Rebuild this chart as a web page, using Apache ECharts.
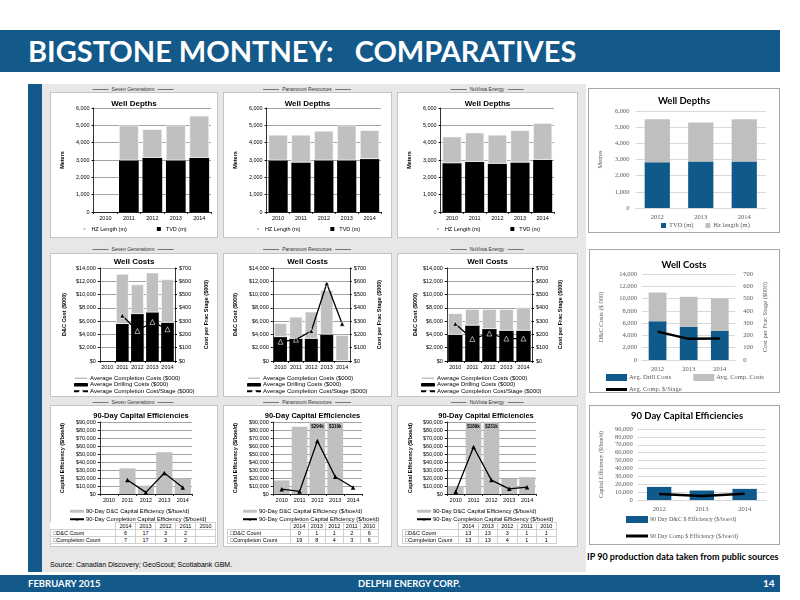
<!DOCTYPE html>
<html><head><meta charset="utf-8">
<script src="https://cdn.jsdelivr.net/npm/echarts@6/dist/echarts.min.js"></script>
<style>
body{margin:0;width:800px;height:600px;position:relative;background:#fff;overflow:hidden;font-family:'Liberation Sans',Arial,sans-serif;}
.abs{position:absolute;}
.box{position:absolute;background:#fff;border:1px solid #c4c4c4;}
.rbox{position:absolute;background:#fff;border:1px solid #a6a6a6;}
.co{position:absolute;font-size:5px;color:#333;display:flex;align-items:center;gap:3px;transform:translate(-50%,-50%);white-space:nowrap;}
.co span{display:inline-block;width:16px;border-top:1px solid #777;}
table.t{position:absolute;border-collapse:collapse;table-layout:fixed;font-size:5.5px;color:#000;background:#fff;}
table.t td{border:1px solid #d0d0d0;height:6px;line-height:6px;padding:0;text-align:center;overflow:hidden;white-space:nowrap;}
table.t td.l{text-align:left;padding-left:2px;}
</style></head>
<body>
<div class="abs" style="left:0;top:30px;width:780px;height:42px;background:#13598a;"></div>
<div class="abs" style="left:28px;top:32px;color:#fff;font-family:Lato,'Open Sans',sans-serif;font-weight:bold;font-size:29px;line-height:38px;white-space:pre;">BIGSTONE MONTNEY:   COMPARATIVES</div>
<div class="abs" style="left:28px;top:84px;width:14px;height:488px;background:#13598a;"></div>
<div class="abs" style="left:42px;top:84px;width:544px;height:488px;background:#e7e7e7;"></div>
<div class="abs" style="left:50px;top:561px;font-size:7px;color:#000;">Source: Canadian Discovery; GeoScout; Scotiabank GBM.</div>
<div class="abs" style="left:587px;top:551px;font-family:Lato,'Open Sans',sans-serif;font-weight:bold;font-size:9px;color:#000;white-space:nowrap;">IP 90 production data taken from public sources</div>
<div class="abs" style="left:0;top:575px;width:780px;height:17px;background:#13598a;"></div>
<div class="abs" style="left:28px;top:577px;color:#fff;font-family:Lato,'Open Sans',sans-serif;font-weight:bold;font-size:9.5px;line-height:13px;">FEBRUARY 2015</div>
<div class="abs" style="left:358px;top:577px;color:#fff;font-family:Lato,'Open Sans',sans-serif;font-weight:bold;font-size:9.5px;line-height:13px;">DELPHI ENERGY CORP.</div>
<div class="abs" style="left:763px;top:577px;color:#fff;font-family:Lato,'Open Sans',sans-serif;font-weight:bold;font-size:10px;line-height:13px;">14</div>
<script>
// ---------- DATA ----------
const years5 = ['2010','2011','2012','2013','2014'];
const years3 = ['2012','2013','2014'];
const tableYears = ['2014','2013','2012','2011','2010'];
const companies = ['Seven Generations','Paramount Resources','NuVista Energy'];

// Well depths (m)
const sgTvd = [null, 2980, 3130, 2980, 3130];
const sgHz  = [null, 2010, 1650, 2010, 2420];
const poTvd = [2980, 2860, 2980, 2980, 3060];
const poHz  = [1470, 1590, 1700, 2010, 1660];
const nvTvd = [2820, 2900, 2790, 2860, 3020];
const nvHz  = [1530, 1680, 1660, 1860, 2110];

// Well costs ($000) and completion cost per stage ($000)
const sgDrill = [null, 5590, 7080, 7330, 5780];
const sgComp  = [null, 7520, 4440, 5970, 6510];
const sgStage = [null, 342, 226, 294, 239];
const poDrill = [3610, 3370, 3370, 4000, null];
const poComp  = [2080, 3280, 4050, 6650, 3900];
const poStage = [145, 161, 226, 583, 280];
const nvDrill = [3950, 5350, 4820, 4580, 4580];
const nvComp  = [3230, 2450, 2980, 3220, 3470];
const nvStage = [280, 166, 207, 169, 169];

// 90-day capital efficiencies ($/boe/d)
const sgDC   = [null, 32000, 10500, 52200, 19400];
const sgCE   = [null, 17400, 2000, 26300, 8100];
const poDC   = [17000, 84000, 294000, 319000, null];
const poCE   = [6000, 3200, 66400, 21500, 8100];
const nvDC   = [10100, 189000, 231000, 19000, 21000];
const nvCE   = [2800, 58700, 17400, 6500, 8500];

// Counts table (columns 2014..2010)
const sgDCCount   = [6, 17, 3, 2, ''];
const sgCompCount = [7, 17, 3, 2, ''];
const poDCCount   = [0, 1, 1, 2, 6];
const poCompCount = [19, 8, 4, 3, 6];
const nvDCCount   = [13, 13, 3, 1, 1];
const nvCompCount = [13, 13, 4, 1, 1];

// Delphi (right column)
const dlTvd   = [2830, 2870, 2870];
const dlHz    = [2660, 2420, 2620];
const dlDrill = [6310, 5410, 4720];
const dlComp  = [4670, 4880, 5310];
const dlStage = [231, 172, 175];
const dlDC    = [16600, 12000, 14100];
const dlCE    = [7500, 5000, 7900];

// ---------- STYLE ----------
const F  = "'Liberation Sans', Arial, sans-serif";
const RF = "Lato, 'Open Sans', sans-serif";
const SF = "'Liberation Serif', serif";
const num = v => v.toLocaleString('en-US');
const money = v => '$' + v.toLocaleString('en-US');
const axL = {color:'#000', fontSize:5.5, fontFamily:F};
const axR = {color:'#595959', fontSize:6.5, fontFamily:SF};
const BLUE = '#0f5a8a', GREY = '#bfbfbf';

function chart(x, y, w, h, opt, cls) {
  const d = document.createElement('div');
  d.className = cls || 'box';
  d.style.left = x + 'px'; d.style.top = y + 'px';
  d.style.width = (w - 2) + 'px'; d.style.height = (h - 2) + 'px';
  document.body.appendChild(d);
  echarts.init(d, null, {renderer:'canvas'}).setOption(opt);
}
function coLabel(cx, cy, text) {
  const d = document.createElement('div');
  d.className = 'co';
  d.style.left = cx + 'px'; d.style.top = cy + 'px';
  d.innerHTML = '<span></span>' + text + '<span></span>';
  document.body.appendChild(d);
}
function table(x, y, labelW, colW, a, b) {
  const t = document.createElement('table');
  t.className = 't';
  t.style.left = x + 'px'; t.style.top = y + 'px';
  t.style.width = (labelW + 5 * colW) + 'px';
  let h = '<colgroup><col style="width:' + labelW + 'px">' + tableYears.map(() => '<col style="width:' + colW + 'px">').join('') + '</colgroup>';
  h += '<tr><td class="l" style="border-left-color:transparent;border-top-color:transparent"></td>' + tableYears.map(v => '<td>' + v + '</td>').join('') + '</tr>';
  h += '<tr><td class="l">&#9633;D&amp;C Count</td>' + a.map(v => '<td>' + v + '</td>').join('') + '</tr>';
  h += '<tr><td class="l">&#9633;Completion Count</td>' + b.map(v => '<td>' + v + '</td>').join('') + '</tr>';
  t.innerHTML = h;
  document.body.appendChild(t);
}

function xCat(data) {
  return {type:'category', data:data,
    axisLine:{lineStyle:{color:'#000', width:0.8}},
    axisTick:{show:true, length:2, lineStyle:{color:'#000', width:0.8}},
    axisLabel:Object.assign({margin:3, interval:0}, axL)};
}
function ttl(text, left, top, size, family) {
  return {text:text, left:left, top:top, textAlign:'center', padding:0,
    textStyle:{fontFamily:family, fontSize:size, fontWeight:'bold', color:'#000'}};
}

function depthOpt(tvd, hz, gl, gr, w) {
  return {
    animation:false,
    title:ttl('Well Depths', w / 2 - 1, 7, 8, F),
    grid:{left:gl, right:gr, top:15, bottom:25},
    legend:{data:['HZ Length (m)','TVD (m)'], bottom:5, left:'center', padding:0, itemGap:30, itemWidth:4, itemHeight:4, icon:'rect',
      textStyle:{fontFamily:F, fontSize:5.5, color:'#000'}},
    xAxis:xCat(years5),
    yAxis:{type:'value', min:0, max:6000, interval:1000, name:'Meters', nameLocation:'middle', nameGap:gl - 9,
      nameTextStyle:{fontFamily:F, fontSize:5.5, fontWeight:'bold', color:'#000'},
      axisLine:{show:true, lineStyle:{color:'#000', width:0.8}}, axisTick:{show:true, length:2},
      axisLabel:Object.assign({formatter:num, margin:4}, axL),
      splitLine:{lineStyle:{color:'#8c8c8c', width:0.8}}},
    series:[
      {name:'TVD (m)', type:'bar', stack:'d', data:tvd, barCategoryGap:'16%', itemStyle:{color:'#000'}},
      {name:'HZ Length (m)', type:'bar', stack:'d', data:hz, itemStyle:{color:'#c0c0c0', borderColor:'#fff', borderWidth:0.6}}
    ]
  };
}

function costOpt(drill, comp, stage, gl, gr, ngl, ngr, w) {
  return {
    animation:false,
    title:ttl('Well Costs', w / 2 - 1, 4, 8, F),
    grid:{left:gl, right:gr, top:14, bottom:35},
    legend:{orient:'vertical', left:22, top:121, padding:0, itemGap:0, itemWidth:14, itemHeight:3.5,
      data:['Average Completion Costs ($000)','Average Drilling Costs ($000)','Average Completion Cost/Stage ($000)'],
      textStyle:{fontFamily:F, fontSize:6, lineHeight:6.5, color:'#000', padding:[0,0,0,-3]}},
    xAxis:xCat(years5),
    yAxis:[
      {type:'value', min:0, max:14000, interval:2000, name:'D&C Cost ($000)', nameLocation:'middle', nameGap:ngl,
        nameTextStyle:{fontFamily:F, fontSize:5.5, fontWeight:'bold', color:'#000'},
        axisLine:{show:true, lineStyle:{color:'#000', width:0.8}}, axisTick:{show:true, length:2},
        axisLabel:Object.assign({formatter:money, margin:4}, axL),
        splitLine:{lineStyle:{color:'#8c8c8c', width:0.8}}},
      {type:'value', min:0, max:700, interval:100, position:'right', name:'Cost per Frac Stage ($000)', nameLocation:'middle', nameGap:ngr, nameRotate:90,
        nameTextStyle:{fontFamily:F, fontSize:5.5, fontWeight:'bold', color:'#000'},
        axisLine:{show:true, lineStyle:{color:'#000', width:0.8}}, axisTick:{show:true, length:2},
        axisLabel:Object.assign({formatter:v => '$' + v, margin:4}, axL), splitLine:{show:false}}
    ],
    series:[
      {name:'Average Drilling Costs ($000)', type:'bar', stack:'c', data:drill, barCategoryGap:'16%', itemStyle:{color:'#000'}},
      {name:'Average Completion Costs ($000)', type:'bar', stack:'c', data:comp, itemStyle:{color:'#c0c0c0', borderColor:'#fff', borderWidth:0.6}},
      {name:'Average Completion Cost/Stage ($000)', type:'line', yAxisIndex:1, data:stage, symbol:'triangle', symbolSize:5,
        lineStyle:{color:'#000', width:1.3}, itemStyle:{color:'#000', borderColor:'#fff', borderWidth:0.6}}
    ]
  };
}

function effOpt(dc, ce, gl, gr, ngl, w) {
  const dcData = dc.map(v => (v !== null && v > 90000) ? {value:v, label:{show:true}} : v);
  return {
    animation:false,
    title:ttl('90-Day Capital Efficiencies', gl + (w - 2 - gl - gr) / 2, 6, 7.5, F),
    grid:{left:gl, right:gr, top:16, bottom:52},
    legend:{orient:'vertical', left:18, top:102, padding:0, itemGap:1.5, itemWidth:14, itemHeight:3,
      data:['90-Day D&C Capital Efficiency ($/boe/d)','90-Day Completion Capital Efficiency ($/boe/d)'],
      textStyle:{fontFamily:F, fontSize:5.8, lineHeight:6.5, color:'#000', padding:[0,0,0,-3]}},
    xAxis:xCat(years5),
    yAxis:{type:'value', min:0, max:90000, interval:10000, name:'Capital Efficiency ($/boe/d)', nameLocation:'middle', nameGap:ngl,
      nameTextStyle:{fontFamily:F, fontSize:5.5, fontWeight:'bold', color:'#000'},
      axisLine:{show:true, lineStyle:{color:'#000', width:0.8}}, axisTick:{show:true, length:2},
      axisLabel:Object.assign({formatter:money, margin:4}, axL),
      splitLine:{lineStyle:{color:'#8c8c8c', width:0.8}}},
    series:[
      {name:'90-Day D&C Capital Efficiency ($/boe/d)', type:'bar', data:dcData, barCategoryGap:'12%', clip:true,
        itemStyle:{color:'#c0c0c0'},
        label:{show:false, position:'insideTop', distance:2, fontFamily:F, fontSize:4.5, fontWeight:'bold', color:'#000',
          formatter:p => '$' + Math.round(p.value / 1000) + 'k'}},
      {name:'90-Day Completion Capital Efficiency ($/boe/d)', type:'line', data:ce, symbol:'triangle', symbolSize:4.5,
        lineStyle:{color:'#000', width:1.3}, itemStyle:{color:'#000'}}
    ]
  };
}

// ---------- LEFT PANEL ----------
const colX = [[50,168],[223,169],[397,181]];
const colC = [133, 307, 487];
[[sgTvd,sgHz,35,6],[poTvd,poHz,37,10],[nvTvd,nvHz,33,23]].forEach((c,i) => {
  chart(colX[i][0], 92, colX[i][1], 146, depthOpt(c[0], c[1], c[2], c[3], colX[i][1]));
  coLabel(colC[i], 89, companies[i]);
});
[[sgDrill,sgComp,sgStage,37,33,32,28],[poDrill,poComp,poStage,39,34,34,27],[nvDrill,nvComp,nvStage,35,45,28,25]].forEach((c,i) => {
  chart(colX[i][0], 253, colX[i][1], 144, costOpt(c[0], c[1], c[2], c[3], c[4], c[5], c[6], colX[i][1]));
  coLabel(colC[i], 249, companies[i]);
});
[[sgDC,sgCE,39,25,34],[poDC,poCE,39,29,34],[nvDC,nvCE,38,41,33]].forEach((c,i) => {
  chart(colX[i][0], 405, colX[i][1], 142, effOpt(c[0], c[1], c[2], c[3], c[4], colX[i][1]));
  coLabel(colC[i], 402, companies[i]);
});
table(50, 522, 65, 20, sgDCCount, sgCompCount);
table(227, 522, 63, 17.5, poDCCount, poCompCount);
table(402, 522, 56, 19.5, nvDCCount, nvCompCount);

// ---------- RIGHT COLUMN (Delphi) ----------
function xCatR(data) {
  return {type:'category', data:data, axisLine:{lineStyle:{color:'#d9d9d9'}}, axisTick:{show:false},
    axisLabel:Object.assign({margin:6, interval:0}, axR)};
}
const legTxt = {fontFamily:SF, fontSize:6.5, color:'#595959', padding:[0,0,0,-3]};
chart(588, 88, 192, 145, {
  animation:false,
  title:ttl('Well Depths', 95, 7, 9.5, RF),
  grid:{left:44, right:13, top:22, bottom:24},
  legend:{data:['TVD (m)','Hz length (m)'], left:72, bottom:3, padding:0, itemWidth:5, itemHeight:5, itemGap:12, icon:'rect',
    textStyle:{fontFamily:SF, fontSize:6.5, color:'#595959', padding:[0,0,0,-2]}},
  xAxis:xCatR(years3),
  yAxis:{type:'value', min:0, max:6000, interval:1000, name:'Metres', nameLocation:'middle', nameGap:29,
    nameTextStyle:{fontFamily:SF, fontSize:6.5, color:'#595959'},
    axisLabel:Object.assign({formatter:num, margin:6}, axR), splitLine:{lineStyle:{color:'#d9d9d9'}}},
  series:[
    {name:'TVD (m)', type:'bar', stack:'d', data:dlTvd, barCategoryGap:'42%', itemStyle:{color:BLUE}},
    {name:'Hz length (m)', type:'bar', stack:'d', data:dlHz, itemStyle:{color:GREY}}
  ]
}, 'rbox');

chart(589, 249, 191, 144, {
  animation:false,
  title:ttl('Well Costs', 94, 10, 9.5, RF),
  grid:{left:46, right:40, top:24, bottom:32},
  legend:[
    {data:['Avg. Drill Costs','Avg. Comp. Costs'], left:16, top:124, padding:0, itemWidth:21, itemHeight:7, itemGap:22, icon:'rect',
      textStyle:legTxt},
    {data:['Avg. Comp. $/Stage'], left:16, top:136, padding:0, itemWidth:21, itemHeight:3, icon:'rect',
      textStyle:legTxt}
  ],
  xAxis:xCatR(years3),
  yAxis:[
    {type:'value', min:0, max:14000, interval:2000, name:'D&C Costs ($ 000)', nameLocation:'middle', nameGap:37,
      nameTextStyle:{fontFamily:SF, fontSize:6.5, color:'#595959'},
      axisLabel:Object.assign({formatter:num, margin:5}, axR), splitLine:{lineStyle:{color:'#d9d9d9'}}},
    {type:'value', min:0, max:700, interval:100, position:'right', name:'Cost per Frac Stage ($000)', nameLocation:'middle', nameGap:26, nameRotate:90,
      nameTextStyle:{fontFamily:SF, fontSize:6.5, color:'#595959'},
      axisLabel:Object.assign({margin:8}, axR), splitLine:{show:false}}
  ],
  series:[
    {name:'Avg. Drill Costs', type:'bar', stack:'c', data:dlDrill, barCategoryGap:'43%', itemStyle:{color:BLUE}},
    {name:'Avg. Comp. Costs', type:'bar', stack:'c', data:dlComp, itemStyle:{color:GREY}},
    {name:'Avg. Comp. $/Stage', type:'line', yAxisIndex:1, data:dlStage, symbol:'none', lineStyle:{color:'#000', width:2.5}, itemStyle:{color:'#000'}}
  ]
}, 'rbox');

chart(589, 405, 191, 140, {
  animation:false,
  title:ttl('90 Day Capital Efficiencies', 97, 5, 9.5, RF),
  grid:{left:46, right:13, top:23, bottom:44},
  legend:[
    {data:['90 Day D&C $ Efficiency ($/boe/d)'], left:36, top:110, padding:0, itemWidth:22, itemHeight:7, icon:'rect',
      textStyle:Object.assign({}, legTxt, {fontSize:6})},
    {data:['90 Day Comp $ Efficiency ($/boe/d)'], left:36, top:127, padding:0, itemWidth:22, itemHeight:3, icon:'rect',
      textStyle:Object.assign({}, legTxt, {fontSize:6})}
  ],
  xAxis:xCatR(years3),
  yAxis:{type:'value', min:0, max:90000, interval:10000, name:'Capital Efficiency ($/boe/d)', nameLocation:'middle', nameGap:30,
    nameTextStyle:{fontFamily:SF, fontSize:6, color:'#595959'},
    axisLabel:Object.assign({formatter:num, margin:5}, axR), splitLine:{lineStyle:{color:'#d9d9d9'}}},
  series:[
    {name:'90 Day D&C $ Efficiency ($/boe/d)', type:'bar', data:dlDC, barCategoryGap:'43%', itemStyle:{color:BLUE}},
    {name:'90 Day Comp $ Efficiency ($/boe/d)', type:'line', data:dlCE, symbol:'none', lineStyle:{color:'#000', width:2.5}, itemStyle:{color:'#000'}}
  ]
}, 'rbox');
</script>
</body></html>
